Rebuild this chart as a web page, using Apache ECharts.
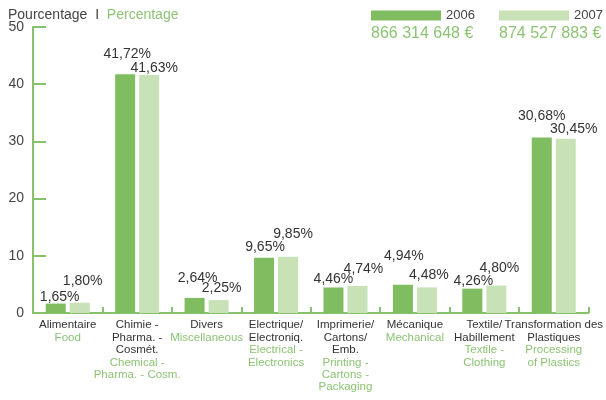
<!DOCTYPE html>
<html>
<head>
    <meta charset="utf-8">
    <script src="https://cdn.jsdelivr.net/npm/echarts@6/dist/echarts.min.js"></script>
</head>
<body style="margin:0">
    <div id="main" style="width: 606px;height:400px;"></div>
	<script type="text/javascript">
	// secteurs (FR / EN)
	var catFr = ['Alimentaire', 'Chimie -\nPharma. -\nCosmét.', 'Divers', 'Electrique/\nElectroniq.',
		'Imprimerie/\nCartons/\nEmb.', 'Mécanique', 'Textile/\nHabillement', 'Transformation des\nPlastiques'];
	var catEn = ['Food', 'Chemical -\nPharma. - Cosm.', 'Miscellaneous', 'Electrical -\nElectronics',
		'Printing -\nCartons -\nPackaging', 'Mechanical', 'Textile -\nClothing', 'Processing\nof Plastics'];
	var years = ['2006', '2007'];
	var totals = ['866 314 648 €', '874 527 883 €'];
	var v2006 = [1.65, 41.72, 2.64, 9.65, 4.46, 4.94, 4.26, 30.68];
	var v2007 = [1.80, 41.63, 2.25, 9.85, 4.74, 4.48, 4.80, 30.45];
	var yTicks = [0, 10, 20, 30, 40, 50];

	// decalage des etiquettes (comme sur l'original)
	var off2006 = [[4,6],[2,-8],[3,-8],[1,1],[0,4],[1,-17],[1,5],[0,-9]];
	var off2007 = [[3,-10],[5,5],[3,0],[5,-11],[6,-5],[2,0],[3,-5],[8,2]];

	var dark = '#80bc60', light = '#c9e1b6', axisGreen = '#86c26c', txtGreen = '#8cc474';
	var font = 'Liberation Sans';

	function fmt(v) { return v.toFixed(2).replace('.', ',') + '%'; }
	function items(vals, offs) {
		return vals.map(function (v, i) { return { value: v, label: { offset: offs[i] } }; });
	}

	myChart = echarts.init(document.getElementById('main'));
	myChart.setOption(option = {
		animation: false,
		textStyle: { fontFamily: font },
		title: [
			{
				text: '{a|Pourcentage}{s|  I  }{b|Percentage}',
				left: 3, top: 3,
				textStyle: {
					fontWeight: 'normal',
					rich: {
						a: { fontSize: 14, color: '#444', fontWeight: 'normal', fontFamily: font },
						s: { fontSize: 14, color: '#444', fontWeight: 'normal', fontFamily: font },
						b: { fontSize: 14, color: txtGreen, fontWeight: 'normal', fontFamily: font }
					}
				}
			},
			{ text: totals[0], left: 366, top: 21, textStyle: { fontSize: 16, fontWeight: 'normal', color: txtGreen, fontFamily: font } },
			{ text: totals[1], left: 494, top: 21, textStyle: { fontSize: 16, fontWeight: 'normal', color: txtGreen, fontFamily: font } }
		],
		legend: [
			{ data: [years[0]], left: 366, top: 4, itemWidth: 70, itemHeight: 10, icon: 'rect',
				textStyle: { fontSize: 13, color: '#444', padding: [0, 0, 0, 0] } },
			{ data: [years[1]], left: 494, top: 4, itemWidth: 70, itemHeight: 10, icon: 'rect',
				textStyle: { fontSize: 13, color: '#444', padding: [0, 0, 0, 0] } }
		],
		grid: { left: 33, right: 16, top: 27, bottom: 87 },
		xAxis: {
			type: 'category',
			data: catFr,
			axisLine: { lineStyle: { color: axisGreen, width: 2 } },
			axisTick: { show: true, inside: true, length: 6, interval: 0, lineStyle: { color: axisGreen, width: 2 } },
			axisLabel: {
				interval: 0, margin: 6,
				formatter: function (val, i) { return '{fr|' + val.split('\n').join('}\n{fr|') + '}\n{en|' + catEn[i].split('\n').join('}\n{en|') + '}'; },
				rich: {
					fr: { fontSize: 11.5, color: '#333', lineHeight: 12.4, fontFamily: font },
					en: { fontSize: 11.5, color: txtGreen, lineHeight: 12.4, fontFamily: font }
				}
			}
		},
		yAxis: {
			type: 'value',
			min: yTicks[0], max: yTicks[yTicks.length - 1], interval: 10,
			axisLine: { show: true, lineStyle: { color: axisGreen, width: 2 } },
			axisTick: { show: true, inside: true, length: 13, lineStyle: { color: axisGreen, width: 2 } },
			splitLine: { show: false },
			axisLabel: { fontSize: 14, color: '#444', margin: 9 }
		},
		series: [
			{
				name: years[0], type: 'bar', barWidth: 20, barGap: '20%',
				itemStyle: { color: dark },
				label: { show: true, position: 'top', distance: 5, fontSize: 14, color: '#333',
					formatter: function (p) { return fmt(p.value); } },
				data: items(v2006, off2006)
			},
			{
				name: years[1], type: 'bar', barWidth: 20,
				itemStyle: { color: light },
				label: { show: true, position: 'top', distance: 5, fontSize: 14, color: '#333',
					formatter: function (p) { return fmt(p.value); } },
				data: items(v2007, off2007)
			}
		]
	});
	</script>
</body>
</html>
